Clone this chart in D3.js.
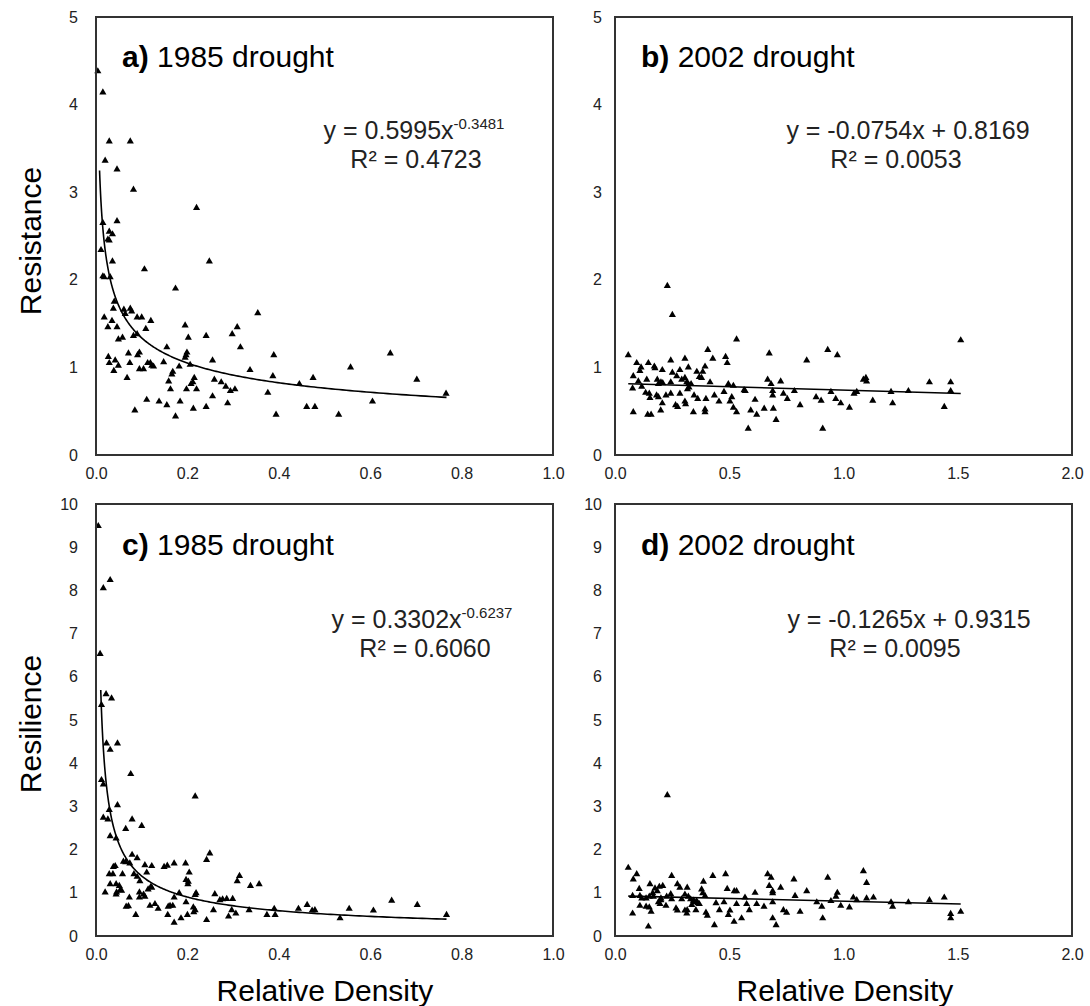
<!DOCTYPE html>
<html>
<head>
<meta charset="utf-8">
<script src="https://cdn.jsdelivr.net/npm/d3@7"></script>
<style>
  body { margin: 0; background: #fff; }
  svg text { font-family: "Liberation Sans", Arial, sans-serif; }
</style>
</head>
<body>
<div class="svg-container"></div>
<script>
// relative density vs resistance / resilience
const resistance1985 = [
  [0.004,4.38],[0.015,4.14],[0.029,3.58],[0.075,3.58],[0.020,3.36],[0.046,3.26],[0.082,3.03],[0.220,2.82],
  [0.015,2.65],[0.046,2.67],[0.029,2.55],[0.036,2.52],[0.026,2.46],[0.029,2.45],[0.011,2.34],[0.036,2.21],
  [0.248,2.21],[0.106,2.12],[0.015,2.04],[0.018,2.03],[0.031,2.03],[0.174,1.90],[0.040,1.75],[0.038,1.67],
  [0.061,1.66],[0.075,1.67],[0.078,1.64],[0.064,1.61],[0.018,1.57],[0.035,1.53],[0.090,1.57],[0.100,1.57],
  [0.120,1.53],[0.026,1.46],[0.046,1.46],[0.109,1.44],[0.195,1.48],[0.309,1.46],[0.354,1.62],[0.298,1.38],
  [0.241,1.36],[0.202,1.34],[0.049,1.32],[0.058,1.34],[0.082,1.36],[0.090,1.38],[0.155,1.23],[0.316,1.23],
  [0.095,1.17],[0.091,1.14],[0.071,1.16],[0.027,1.12],[0.029,1.05],[0.042,1.08],[0.049,1.02],[0.039,0.96],
  [0.074,1.05],[0.095,0.98],[0.104,0.98],[0.113,1.05],[0.119,1.05],[0.122,1.02],[0.126,1.01],[0.148,1.06],
  [0.182,1.01],[0.199,1.17],[0.197,1.14],[0.195,1.11],[0.206,1.03],[0.255,1.08],[0.389,1.14],[0.168,0.95],
  [0.166,0.92],[0.068,0.88],[0.159,0.84],[0.163,0.75],[0.212,0.83],[0.215,0.88],[0.208,0.81],[0.198,0.75],
  [0.220,0.75],[0.259,0.86],[0.274,0.83],[0.284,0.78],[0.294,0.73],[0.304,0.75],[0.337,0.97],[0.387,0.90],
  [0.445,0.81],[0.475,0.88],[0.376,0.71],[0.111,0.63],[0.138,0.61],[0.155,0.57],[0.184,0.61],[0.085,0.51],
  [0.213,0.53],[0.241,0.55],[0.288,0.59],[0.255,0.67],[0.174,0.44],[0.394,0.46],[0.461,0.55],[0.479,0.55],
  [0.557,1.00],[0.644,1.16],[0.702,0.86],[0.766,0.70],[0.605,0.61],[0.531,0.46]
];

const resistance2002 = [
  [0.229,1.93],[0.251,1.60],[0.532,1.32],[0.058,1.14],[0.095,1.05],[0.146,1.05],[0.114,1.00],[0.109,0.96],
  [0.172,1.01],[0.175,0.99],[0.207,0.97],[0.244,1.08],[0.306,1.10],[0.406,1.20],[0.428,1.10],[0.484,1.12],
  [0.491,1.05],[0.394,1.01],[0.321,1.00],[0.284,0.97],[0.080,0.90],[0.139,0.86],[0.102,0.84],[0.185,0.86],
  [0.201,0.83],[0.209,0.82],[0.190,0.81],[0.251,0.94],[0.270,0.90],[0.292,0.86],[0.306,0.88],[0.314,0.83],
  [0.358,0.95],[0.369,0.89],[0.379,0.88],[0.384,0.95],[0.244,0.83],[0.321,0.81],[0.333,0.81],[0.416,0.83],
  [0.496,0.81],[0.518,0.79],[0.565,0.74],[0.570,0.73],[0.668,0.86],[0.683,0.81],[0.725,0.84],[0.675,1.16],
  [0.839,1.08],[0.931,1.20],[0.973,1.14],[0.077,0.76],[0.117,0.78],[0.134,0.71],[0.150,0.70],[0.153,0.65],
  [0.182,0.68],[0.190,0.66],[0.223,0.68],[0.244,0.70],[0.284,0.70],[0.317,0.75],[0.324,0.77],[0.346,0.68],
  [0.362,0.64],[0.398,0.64],[0.435,0.68],[0.477,0.72],[0.455,0.61],[0.503,0.61],[0.511,0.66],[0.265,0.57],
  [0.274,0.55],[0.306,0.61],[0.309,0.58],[0.207,0.59],[0.200,0.51],[0.343,0.49],[0.394,0.52],[0.394,0.49],
  [0.518,0.54],[0.532,0.49],[0.594,0.51],[0.613,0.63],[0.620,0.46],[0.653,0.53],[0.690,0.73],[0.690,0.68],
  [0.693,0.53],[0.705,0.40],[0.737,0.70],[0.754,0.64],[0.785,0.73],[0.810,0.57],[0.880,0.66],[0.902,0.62],
  [0.945,0.72],[0.966,0.64],[0.988,0.59],[1.026,0.54],[0.080,0.49],[0.143,0.46],[0.158,0.46],[0.583,0.30],
  [0.909,0.30],[1.513,1.31],[1.087,0.86],[1.098,0.88],[1.101,0.84],[1.376,0.83],[1.469,0.83],[1.046,0.70],
  [1.058,0.72],[1.208,0.72],[1.284,0.73],[1.469,0.73],[1.128,0.62],[1.215,0.59],[1.441,0.55]
];

const resilience1985 = [
  [0.005,9.49],[0.016,8.05],[0.031,8.24],[0.009,6.53],[0.022,5.60],[0.034,5.50],[0.012,5.35],
  [0.023,4.46],[0.047,4.46],[0.031,4.31],[0.076,3.75],[0.012,3.61],[0.016,3.51],[0.217,3.23],[0.047,3.03],
  [0.029,2.92],[0.016,2.74],[0.026,2.70],[0.079,2.70],[0.100,2.55],[0.065,2.48],[0.031,2.31],[0.044,2.26],
  [0.060,1.72],[0.065,1.71],[0.074,1.68],[0.079,1.88],[0.090,1.80],[0.038,1.60],[0.042,1.62],[0.029,1.43],
  [0.037,1.43],[0.058,1.43],[0.107,1.64],[0.122,1.62],[0.149,1.60],[0.156,1.63],[0.171,1.68],[0.196,1.68],
  [0.204,1.47],[0.249,1.91],[0.242,1.76],[0.111,1.47],[0.083,1.43],[0.090,1.37],[0.096,1.27],[0.197,1.30],
  [0.202,1.26],[0.201,1.20],[0.314,1.39],[0.309,1.27],[0.338,1.16],[0.357,1.20],[0.031,1.20],[0.044,1.20],
  [0.051,1.16],[0.053,1.06],[0.020,1.01],[0.045,1.01],[0.056,1.05],[0.044,0.96],[0.073,0.89],[0.095,1.01],
  [0.104,0.96],[0.095,0.89],[0.107,0.91],[0.120,1.14],[0.114,1.08],[0.122,1.12],[0.182,0.99],[0.219,0.99],
  [0.217,0.95],[0.260,0.97],[0.271,0.83],[0.277,0.85],[0.286,0.86],[0.299,0.86],[0.171,0.89],[0.197,0.78],
  [0.066,0.68],[0.071,0.69],[0.118,0.70],[0.129,0.74],[0.136,0.63],[0.158,0.68],[0.162,0.70],[0.168,0.70],
  [0.213,0.66],[0.217,0.60],[0.214,0.55],[0.257,0.60],[0.297,0.60],[0.306,0.52],[0.290,0.45],[0.335,0.60],
  [0.390,0.63],[0.392,0.49],[0.374,0.49],[0.443,0.63],[0.462,0.72],[0.473,0.59],[0.479,0.60],[0.087,0.49],
  [0.157,0.49],[0.171,0.31],[0.186,0.41],[0.200,0.49],[0.242,0.37],
  [0.554,0.63],[0.607,0.59],[0.647,0.82],[0.703,0.72],[0.534,0.41],[0.767,0.49]
];

const resilience2002 = [
  [0.229,3.26],[0.058,1.58],[0.080,1.31],[0.095,1.43],[0.248,1.39],[0.273,1.20],[0.284,1.12],[0.316,1.12],
  [0.387,1.26],[0.428,1.39],[0.484,1.43],[0.491,1.09],[0.522,1.04],[0.532,1.04],[0.668,1.43],[0.683,1.35],
  [0.725,1.12],[0.675,1.16],[0.690,1.04],[0.690,0.99],[0.783,1.31],[0.839,1.04],[0.931,1.35],[0.973,1.00],
  [0.153,1.20],[0.175,1.10],[0.194,1.14],[0.209,1.16],[0.185,1.04],[0.165,0.99],[0.106,1.09],[0.077,0.93],
  [0.109,0.93],[0.117,0.87],[0.136,0.87],[0.150,0.91],[0.168,0.91],[0.190,0.78],[0.201,0.83],[0.226,0.91],
  [0.244,0.97],[0.248,0.85],[0.292,0.85],[0.306,0.96],[0.321,0.91],[0.331,0.85],[0.347,0.79],[0.362,0.76],
  [0.369,0.74],[0.379,1.08],[0.384,0.99],[0.394,0.93],[0.442,0.76],[0.477,0.78],[0.532,0.74],[0.569,0.89],
  [0.576,0.74],[0.613,1.00],[0.620,0.74],[0.652,0.68],[0.690,0.78],[0.737,0.60],[0.751,0.54],[0.788,0.93],
  [0.810,0.56],[0.883,0.78],[0.905,0.68],[0.945,0.81],[0.967,0.91],[0.988,0.70],[1.026,0.66],[0.077,0.52],
  [0.109,0.70],[0.136,0.68],[0.150,0.66],[0.158,0.56],[0.197,0.74],[0.201,0.87],[0.223,0.70],[0.267,0.64],
  [0.273,0.59],[0.306,0.59],[0.314,0.52],[0.316,0.60],[0.354,0.60],[0.398,0.54],[0.404,0.47],[0.457,0.60],
  [0.496,0.49],[0.503,0.59],[0.521,0.33],[0.554,0.41],[0.588,0.60],[0.435,0.25],[0.690,0.41],[0.705,0.25],
  [0.909,0.41],[0.146,0.22],[0.336,0.72],[0.343,0.82],[0.357,0.81],
  [1.087,1.50],[1.101,1.23],[1.043,0.89],[1.058,0.83],[1.101,0.87],[1.131,0.89],[1.208,0.78],[1.215,0.68],
  [1.284,0.78],[1.376,0.83],[1.441,0.89],[1.469,0.51],[1.469,0.41],[1.513,0.56]
];

// fitted trendlines (coefficients as printed on the chart)
const fits = [
  {type: 'power', a: 0.5995, b: -0.3481, from: 0.0078, to: 0.767, eq: 'y = 0.5995x', sup: '-0.3481', r2: 'R² = 0.4723'},
  {type: 'linear', a: -0.0754, b: 0.8169, from: 0.058, to: 1.513, eq: 'y = -0.0754x + 0.8169', sup: '', r2: 'R² = 0.0053'},
  {type: 'power', a: 0.3302, b: -0.6237, from: 0.0104, to: 0.767, eq: 'y = 0.3302x', sup: '-0.6237', r2: 'R² = 0.6060'},
  {type: 'linear', a: -0.1265, b: 0.9315, from: 0.058, to: 1.513, eq: 'y = -0.1265x + 0.9315', sup: '', r2: 'R² = 0.0095'}
];

const panelLabels = ['a)', 'b)', 'c)', 'd)'];
const panelYears = ['1985 drought', '2002 drought', '1985 drought', '2002 drought'];
const xTicks1985 = [0, 0.2, 0.4, 0.6, 0.8, 1.0];
const xTicks2002 = [0, 0.5, 1.0, 1.5, 2.0];
const yTicksResistance = [0, 1, 2, 3, 4, 5];
const yTicksResilience = [0, 1, 2, 3, 4, 5, 6, 7, 8, 9, 10];

const W = 1090, H = 1006;
const svg = d3.select('.svg-container').append('svg')
    .attr('width', W)
    .attr('height', H);

const panels = [
  {data: resistance1985, box: [96, 17, 553, 455], xMax: 1, yMax: 5, xt: xTicks1985, yt: yTicksResistance, pad: 18,
   title: [122, 67], eq: [414, 139], r2: [416, 168]},
  {data: resistance2002, box: [615, 17, 1072, 455], xMax: 2, yMax: 5, xt: xTicks2002, yt: yTicksResistance, pad: 13,
   title: [641, 67], eq: [908, 139], r2: [896, 168]},
  {data: resilience1985, box: [96, 504, 553, 936], xMax: 1, yMax: 10, xt: xTicks1985, yt: yTicksResilience, pad: 18,
   title: [122, 555], eq: [422, 628], r2: [425, 657]},
  {data: resilience2002, box: [615, 504, 1072, 936], xMax: 2, yMax: 10, xt: xTicks2002, yt: yTicksResilience, pad: 13,
   title: [641, 555], eq: [909, 628], r2: [895, 657]}
];

panels.forEach((p, i) => {
  const [x0, y0, x1, y1] = p.box;
  const x = d3.scaleLinear().domain([0, p.xMax]).range([x0, x1]);
  const y = d3.scaleLinear().domain([0, p.yMax]).range([y1, y0]);
  const g = svg.append('g');

  // axes: labels only, no tick marks
  g.append('g')
      .attr('transform', `translate(0,${y1})`)
      .call(d3.axisBottom(x).tickValues(p.xt).tickSize(0).tickPadding(13).tickFormat(d3.format('.1f')))
      .call(a => a.select('.domain').remove())
      .selectAll('text').style('font-size', '16px').attr('fill', '#222');

  g.append('g')
      .attr('transform', `translate(${x0},0)`)
      .call(d3.axisLeft(y).tickValues(p.yt).tickSize(0).tickPadding(p.pad).tickFormat(d3.format('d')))
      .call(a => a.select('.domain').remove())
      .selectAll('text').style('font-size', '16px').attr('fill', '#222');

  // trendline
  const f = fits[i];
  let line;
  if (f.type === 'power') {
    const xs = d3.range(0, 301).map(k => Math.exp(Math.log(f.from) + k / 300 * (Math.log(f.to) - Math.log(f.from))));
    line = xs.map(v => [v, f.a * Math.pow(v, f.b)]);
  } else {
    line = [f.from, f.to].map(v => [v, f.a * v + f.b]);
  }
  g.append('path')
      .datum(line)
      .attr('fill', 'none')
      .attr('stroke', '#000')
      .attr('stroke-width', 1.6)
      .attr('d', d3.line().x(d => x(d[0])).y(d => y(d[1])));

  // points
  g.selectAll('.pt')
    .data(p.data)
    .enter().append('path')
      .attr('class', 'pt')
      .attr('d', d3.symbol().type(d3.symbolTriangle).size(22))
      .attr('transform', d => `translate(${x(d[0])},${y(d[1])})`)
      .attr('fill', '#000');

  // frame
  g.append('rect')
      .attr('x', x0).attr('y', y0)
      .attr('width', x1 - x0).attr('height', y1 - y0)
      .attr('fill', 'none')
      .attr('stroke', '#333')
      .attr('stroke-width', 2);

  // title
  const t = g.append('text')
      .attr('x', p.title[0]).attr('y', p.title[1])
      .style('font-size', '30px')
      .attr('fill', '#000');
  t.append('tspan').style('font-weight', 'bold').text(panelLabels[i] + ' ');
  t.append('tspan').text(panelYears[i]);

  // equation
  const eq = g.append('text')
      .attr('x', p.eq[0]).attr('y', p.eq[1])
      .attr('text-anchor', 'middle')
      .style('font-size', '25px')
      .attr('fill', '#222');
  eq.append('tspan').text(f.eq);
  if (f.sup) eq.append('tspan').attr('dy', -10).style('font-size', '15px').text(f.sup);

  g.append('text')
      .attr('x', p.r2[0]).attr('y', p.r2[1])
      .attr('text-anchor', 'middle')
      .style('font-size', '25px')
      .attr('fill', '#222')
      .text(f.r2);
});

// axis titles
svg.append('text')
    .attr('transform', 'translate(41,241) rotate(-90)')
    .attr('text-anchor', 'middle')
    .style('font-size', '30px')
    .text('Resistance');

svg.append('text')
    .attr('transform', 'translate(41,724) rotate(-90)')
    .attr('text-anchor', 'middle')
    .style('font-size', '30px')
    .text('Resilience');

[325, 845].forEach(cx => {
  svg.append('text')
      .attr('x', cx).attr('y', 1001)
      .attr('text-anchor', 'middle')
      .style('font-size', '30px')
      .text('Relative Density');
});
</script>
</body>
</html>
